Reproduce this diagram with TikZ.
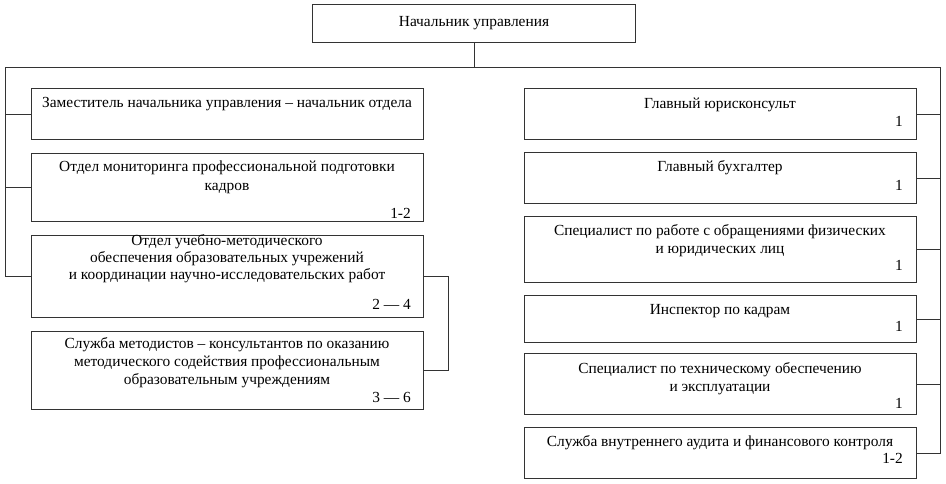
\documentclass[tikz,border=0pt]{standalone}
\usepackage{fontspec}
\setmainfont{Liberation Serif}
\begin{document}
\begin{tikzpicture}[x=1pt,y=-1pt,
  box/.style={draw=black!80, line width=1pt, rectangle, inner sep=0pt, anchor=north west},
  lbox/.style={box, minimum width=392pt},
  rbox/.style={box, minimum width=392pt},
  txt/.style={inner sep=0pt, align=center, anchor=north, font=\fontsize{15.4}{18}\selectfont},
  num/.style={inner sep=0pt, anchor=base east, font=\fontsize{15.4}{18}\selectfont},
  conn/.style={draw=black!80, line width=1pt}]
\useasboundingbox (0,0) rectangle (946,483);
% top
\node[box, minimum width=323pt, minimum height=38pt, font=\fontsize{15.4}{18}\selectfont] (top) at (312,4) {Начальник управления};
% left boxes
\node[lbox, minimum height=51pt] (L1) at (31,88) {};
\node[lbox, minimum height=68pt] (L2) at (31,153) {};
\node[lbox, minimum height=82pt] (L3) at (31,235) {};
\node[lbox, minimum height=78pt] (L4) at (31,331) {};
% right boxes
\node[rbox, minimum height=51pt] (R1) at (524,88) {};
\node[rbox, minimum height=51pt] (R2) at (524,152) {};
\node[rbox, minimum height=66pt] (R3) at (524,216) {};
\node[rbox, minimum height=47pt] (R4) at (524,295) {};
\node[rbox, minimum height=61pt] (R5) at (524,353) {};
\node[rbox, minimum height=51pt] (R6) at (524,427) {};
% texts left
\node[txt] (L1t) at (227,97.3) {Заместитель начальника управления – начальник отдела};
\node[txt, font=\fontsize{15.4}{19}\selectfont] (L2t) at (227,160.7) {Отдел мониторинга профессиональной подготовки\\кадров};
\node[num] (L2n) at (411,218.3) {1-2};
\node[txt, font=\fontsize{15.4}{16.7}\selectfont] (L3t) at (227,234.7) {Отдел учебно-методического\\обеспечения образовательных учрежений\\и координации научно-исследовательских работ};
\node[num] (L3n) at (411,309) {2 — 4};
\node[txt] (L4t) at (227,337.3) {Служба методистов – консультантов по оказанию\\методического содействия профессиональным\\образовательным учреждениям};
\node[num] (L4n) at (411,402.3) {3 — 6};
% texts right
\node[txt] (R1t) at (720,97.3) {Главный юрисконсульт};
\node[num] (R1n) at (903,126.7) {1};
\node[txt] (R2t) at (720,160.7) {Главный бухгалтер};
\node[num] (R2n) at (903,190) {1};
\node[txt] (R3t) at (720,224) {Специалист по работе с обращениями физических\\и юридических лиц};
\node[num] (R3n) at (903,270) {1};
\node[txt] (R4t) at (720,304) {Инспектор по кадрам};
\node[num] (R4n) at (903,331.7) {1};
\node[txt] (R5t) at (720,362.3) {Специалист по техническому обеспечению\\и эксплуатации};
\node[num] (R5n) at (903,408.3) {1};
\node[txt] (R6t) at (720,435) {Служба внутреннего аудита и финансового контроля};
\node[num] (R6n) at (903,463.3) {1-2};
% connectors
\coordinate (hl) at (5,67);
\coordinate (hr) at (940,67);
\coordinate (br) at (448,0);
\draw[conn] (top.south) -- (top.south |- hl);
\draw[conn] (hl) -- (hr);
\draw[conn] (hl) -- (hl |- L3.west) -- (L3.west);
\draw[conn] (hl |- L1.west) -- (L1.west);
\draw[conn] (hl |- L2.west) -- (L2.west);
\draw[conn] (L3.east) -- (L3.east -| br) -- (br |- L4.east) -- (L4.east);
\draw[conn] (hr) -- (hr |- R6.east) -- (R6.east);
\draw[conn] (hr |- R1.east) -- (R1.east);
\draw[conn] (hr |- R2.east) -- (R2.east);
\draw[conn] (hr |- R3.east) -- (R3.east);
\draw[conn] (hr |- R4.east) -- (R4.east);
\draw[conn] (hr |- R5.east) -- (R5.east);
\end{tikzpicture}
\end{document}
